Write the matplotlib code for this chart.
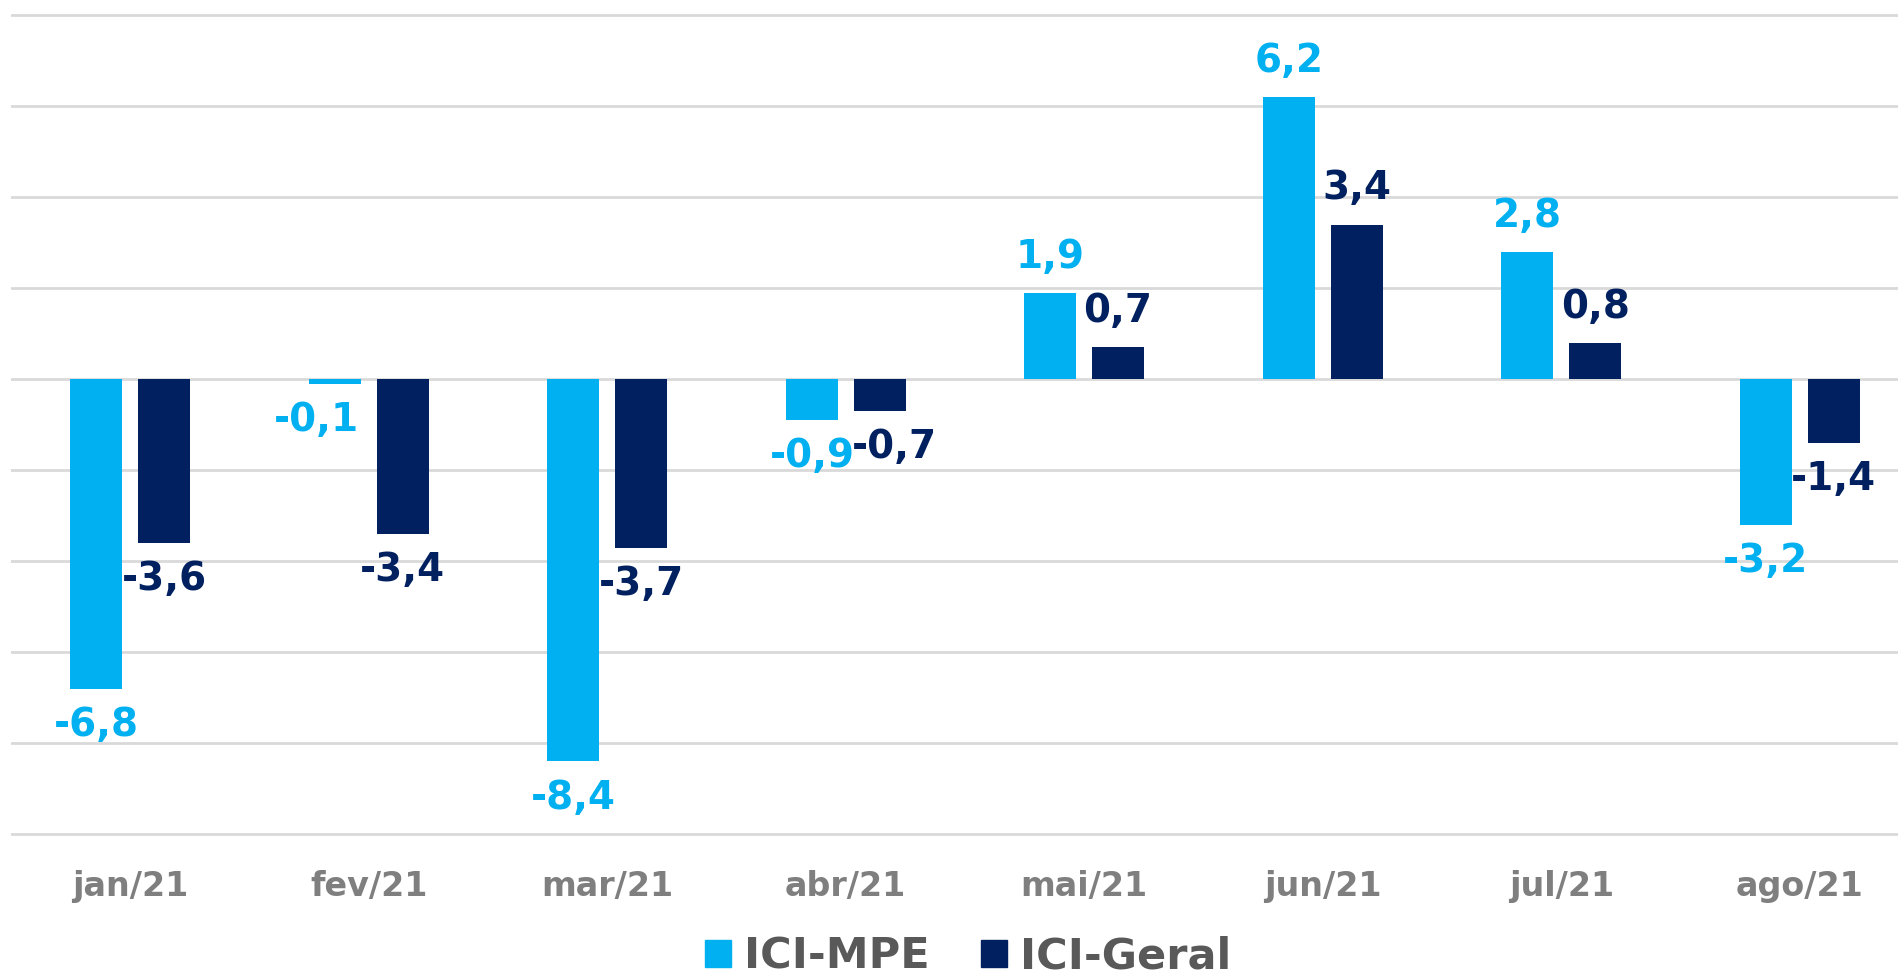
import numpy as np
import matplotlib
matplotlib.use("Agg")
import matplotlib.pyplot as plt
from matplotlib.patches import Patch

# data
months = ["jan/21", "fev/21", "mar/21", "abr/21", "mai/21", "jun/21", "jul/21", "ago/21"]
ici_mpe = [-6.8, -0.1, -8.4, -0.9, 1.9, 6.2, 2.8, -3.2]
ici_geral = [-3.6, -3.4, -3.7, -0.7, 0.7, 3.4, 0.8, -1.4]

# small horizontal nudges (points) for labels that would collide
mpe_nudge = [0, -13, 0, 0, 0, 0, 0, 0]
geral_nudge = [0, 0, 0, 11, 0, 0, 0, 0]

c_mpe = "#00B0F0"
c_geral = "#002060"

plt.rcParams["font.family"] = ["DejaVu Sans"]

fig = plt.figure(figsize=(18.98, 9.76), dpi=100)
ax = fig.add_axes([11 / 1898, 1 - 836 / 976, 1908 / 1898, (836 - 13.5) / 976])

x = np.arange(len(months))
w = 0.218
off = 0.142

b1 = ax.bar(x - off, ici_mpe, w, color=c_mpe, zorder=3)
b2 = ax.bar(x + off, ici_geral, w, color=c_geral, zorder=3)

def fmt(v):
    return f"{v:.1f}".replace(".", ",")

for bars, vals, col, nud in [(b1, ici_mpe, c_mpe, mpe_nudge), (b2, ici_geral, c_geral, geral_nudge)]:
    for b, v, n in zip(bars, vals, nud):
        dy = 26 if v >= 0 else -26
        ax.annotate(fmt(v), (b.get_x() + b.get_width() / 2, v),
                    xytext=(n, dy), textcoords="offset points",
                    ha="center", va="center", fontsize=28, fontweight="bold",
                    color=col, zorder=4)

ax.set_xlim(-0.5, len(months) - 0.5)
ax.set_ylim(-10.04, 8.04)
ax.set_yticks(np.arange(-10, 9, 2))
ax.yaxis.grid(True, color="#d9d9d9", linewidth=2, zorder=0)
ax.tick_params(axis="y", left=False, labelleft=False)
ax.set_xticks(x)
ax.set_xticklabels(months, fontsize=24, fontweight="bold", color="#7f7f7f")
ax.tick_params(axis="x", bottom=False, pad=21)
for s in ax.spines.values():
    s.set_visible(False)

handles = [Patch(color=c_mpe, label="ICI-MPE"), Patch(color=c_geral, label="ICI-Geral")]
leg = fig.legend(handles=handles, loc="center", bbox_to_anchor=(0.51, 0.02), ncol=2,
                 frameon=False, fontsize=31, handlelength=0.6, handleheight=0.6,
                 handletextpad=0.3, columnspacing=1.2, borderaxespad=0)
for t in leg.get_texts():
    t.set_color("#595959")
    t.set_fontweight("bold")

fig.savefig("out.png", dpi=100)
